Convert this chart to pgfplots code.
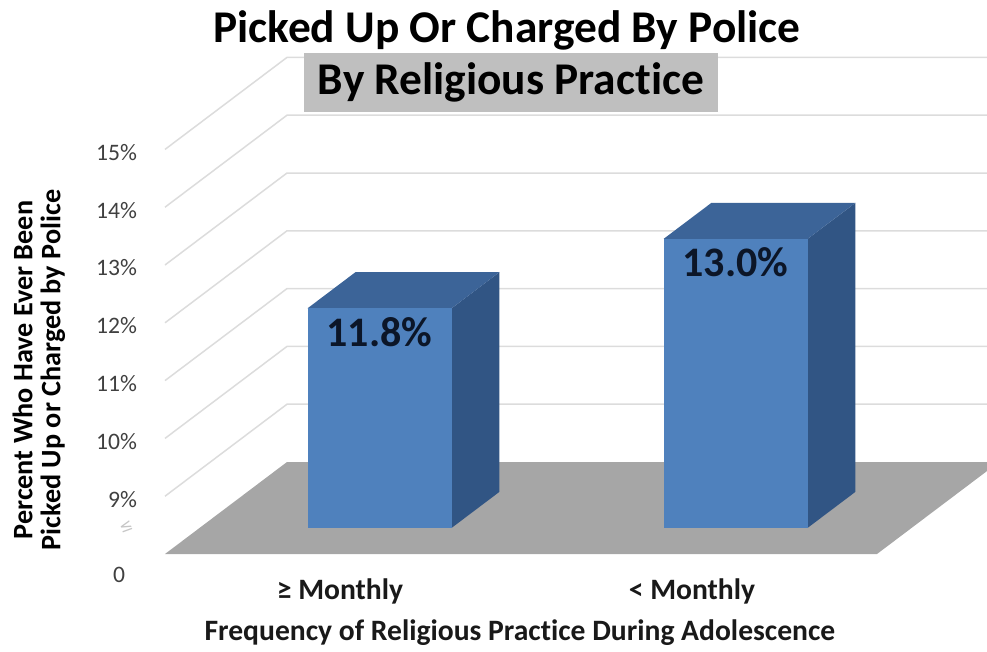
\documentclass[border=0pt]{standalone}
\usepackage{fontspec}
\setmainfont[Ligatures=NoCommon]{Carlito}
\newfontfamily\dejavu{DejaVu Sans}
\usepackage{pgfplots}
\pgfplotsset{compat=1.18}
\definecolor{barfront}{RGB}{79,129,189}
\definecolor{bartop}{RGB}{60,100,152}
\definecolor{barside}{RGB}{49,85,132}
\definecolor{floorgray}{RGB}{166,166,166}
\definecolor{gridgray}{RGB}{220,220,220}
\definecolor{boxgray}{RGB}{191,191,191}
\definecolor{labelnavy}{RGB}{12,22,40}
\definecolor{ticktext}{RGB}{64,64,64}
\tikzset{ticklab/.style={anchor=east, text=ticktext, font=\fontsize{11.8}{14}\selectfont, yshift=-1.5pt}}
\begin{document}
\begin{tikzpicture}
\begin{axis}[
  hide axis, clip=false,
  x={(0.5pt,0pt)}, y={(61pt,46pt)}, z={(0pt,28.9pt)},
  xmin=165, xmax=865, ymin=0, ymax=1, zmin=8, zmax=15,
]
% side-wall and back-wall gridlines
\addplot3[gridgray, line width=0.75pt] coordinates {(165,0,9) (165,1,9) (865,1,9)};
\addplot3[gridgray, line width=0.75pt] coordinates {(165,0,10) (165,1,10) (865,1,10)};
\addplot3[gridgray, line width=0.75pt] coordinates {(165,0,11) (165,1,11) (865,1,11)};
\addplot3[gridgray, line width=0.75pt] coordinates {(165,0,12) (165,1,12) (865,1,12)};
\addplot3[gridgray, line width=0.75pt] coordinates {(165,0,13) (165,1,13) (865,1,13)};
\addplot3[gridgray, line width=0.75pt] coordinates {(165,0,14) (165,1,14) (865,1,14)};
\addplot3[gridgray, line width=0.75pt] coordinates {(165,0,15) (165,1,15) (865,1,15)};
% floor
\addplot3[fill=floorgray, draw=none] coordinates {(165,0,8) (877,0,8) (877,1,8) (165,1,8)};
% bar 1: >= Monthly, 11.8
\addplot3[fill=barside, draw=none] coordinates {(417,0.283,8) (417,0.676,8) (417,0.676,11.8) (417,0.283,11.8)};
\addplot3[fill=bartop, draw=none] coordinates {(273,0.283,11.8) (417,0.283,11.8) (417,0.676,11.8) (273,0.676,11.8)};
\addplot3[fill=barfront, draw=none] coordinates {(273,0.283,8) (417,0.283,8) (417,0.283,11.8) (273,0.283,11.8)};
% bar 2: < Monthly, 13.0
\addplot3[fill=barside, draw=none] coordinates {(773,0.283,8) (773,0.676,8) (773,0.676,13.0) (773,0.283,13.0)};
\addplot3[fill=bartop, draw=none] coordinates {(629,0.283,13.0) (773,0.283,13.0) (773,0.676,13.0) (629,0.676,13.0)};
\addplot3[fill=barfront, draw=none] coordinates {(629,0.283,8) (773,0.283,8) (773,0.283,13.0) (629,0.283,13.0)};
% data labels
\node[anchor=north, text=labelnavy, font=\fontsize{21}{25}\selectfont\bfseries, yshift=-1pt] at (axis cs:345,0.283,11.8) {11.8\%};
\node[anchor=north, text=labelnavy, font=\fontsize{21}{25}\selectfont\bfseries, yshift=-1pt] at (axis cs:701,0.283,13.0) {13.0\%};
% tick labels
\node[ticklab] at (axis cs:144,0,9) {9\%};
\node[ticklab] at (axis cs:144,0,10) {10\%};
\node[ticklab] at (axis cs:144,0,11) {11\%};
\node[ticklab] at (axis cs:144,0,12) {12\%};
\node[ticklab] at (axis cs:144,0,13) {13\%};
\node[ticklab] at (axis cs:144,0,14) {14\%};
\node[ticklab] at (axis cs:144,0,15) {15\%};
\node[text=ticktext, font=\fontsize{11.8}{14}\selectfont] at (axis cs:119,0,7.637) {0};
\node[text=gray!45, font=\dejavu\fontsize{8}{10}\selectfont, rotate=20] at (axis cs:126,0,8.467) {≤};
% y-axis title
\node[rotate=90, align=center, font=\fontsize{14.1}{14}\selectfont\bfseries] at (axis cs:39,0,11.183) {Percent Who Have Ever Been\\Picked Up or Charged by Police};
% x labels
\node[font=\fontsize{14.8}{17}\selectfont\bfseries, text=black!90] at (axis cs:340,0,7.36) {≥ Monthly};
\node[font=\fontsize{14.8}{17}\selectfont\bfseries, text=black!90] at (axis cs:692,0,7.36) {< Monthly};
\node[font=\fontsize{14.8}{17}\selectfont\bfseries, text=black!90] at (axis cs:520,0,6.633) {Frequency of Religious Practice During Adolescence};
% title
\node[font=\fontsize{22.7}{26}\selectfont\bfseries] at (axis cs:507,0,17.066) {Picked Up Or Charged By Police};
\node[font=\fontsize{22.7}{26}\selectfont\bfseries, fill=boxgray, minimum height=29.5pt, inner xsep=6.75pt] at (axis cs:511,0,16.157) {By Religious Practice};
% bounding box helpers
\node[inner sep=0pt, minimum size=0pt] (bbBL) at (axis cs:0,0,6.3218) {};
\node[inner sep=0pt, minimum size=0pt] (bbTR) at (axis cs:987,0,17.5848) {};
\end{axis}
\pgfresetboundingbox
\path[use as bounding box] (bbBL.center) rectangle (bbTR.center);
\end{tikzpicture}
\end{document}
